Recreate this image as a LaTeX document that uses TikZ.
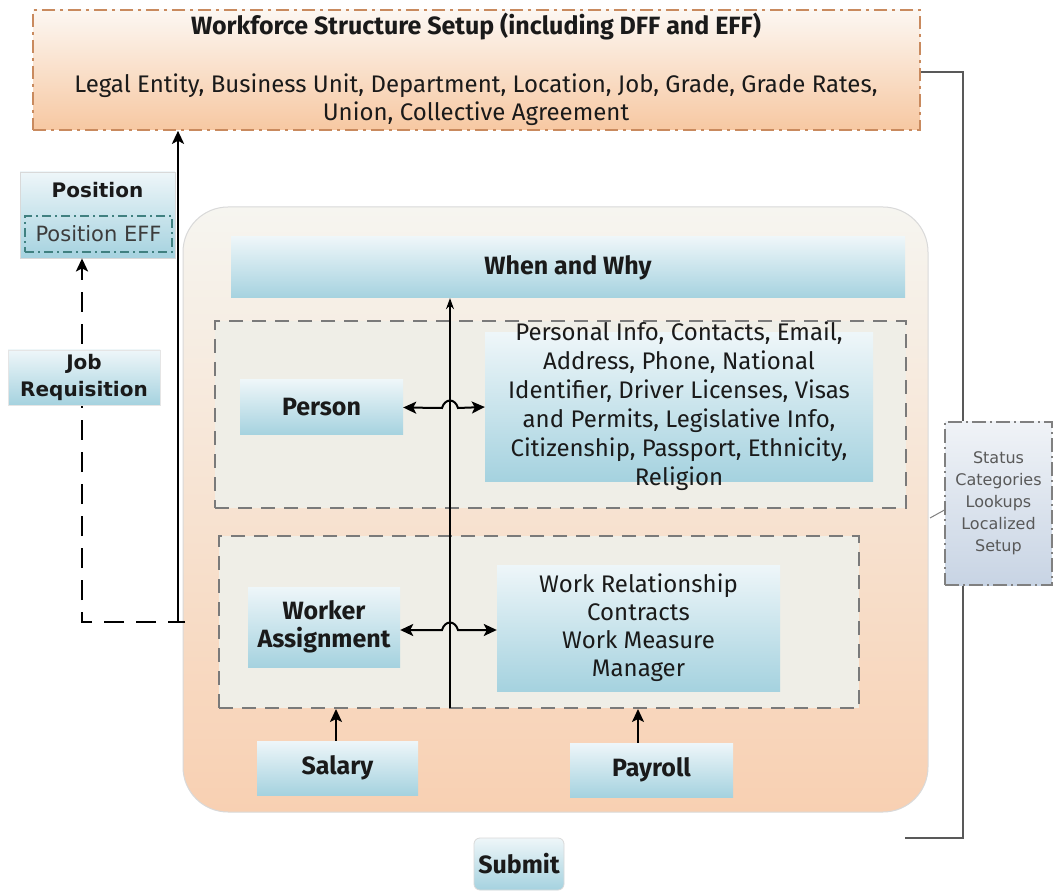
\documentclass[tikz,border=0pt]{standalone}
\usepackage{fontspec}
\setmainfont{Fira Sans}
\newfontfamily\dvs{DejaVu Sans}
\usetikzlibrary{arrows.meta,calc}
\definecolor{orbd}{HTML}{C98A5E}
\definecolor{ortop}{HTML}{FCF7F2}
\definecolor{orbot}{HTML}{F7C8A2}
\definecolor{bigtop}{HTML}{F6F5F0}
\definecolor{bigbot}{HTML}{F8D0B2}
\definecolor{grpfill}{HTML}{EFEEE7}
\definecolor{grpbd}{HTML}{7A7A7A}
\definecolor{bltop}{HTML}{EEF6F9}
\definecolor{blbot}{HTML}{A5D2DF}
\definecolor{sttop}{HTML}{F0F3F7}
\definecolor{stbot}{HTML}{C8D4E4}
\definecolor{txt}{HTML}{1A1A1A}
\tikzset{
  bluebox/.style={rectangle, top color=bltop, bottom color=blbot, draw=none, inner sep=0pt, text=txt, align=center},
  grp/.style={rectangle, fill=grpfill, draw=grpbd, line width=1.6pt, dash pattern=on 14pt off 9pt, inner sep=0pt},
  body/.style={font=\fontsize{24}{29}\selectfont},
  ttl/.style={font=\fontsize{25}{29}\selectfont\bfseries},
  tip/.tip={Stealth[length=13pt,width=12pt,inset=3pt]},
  arr/.style={line width=2pt, -tip},
  darr/.style={line width=2pt, tip-tip},
  thin/.style={line width=1.2pt, draw=black, -{Stealth[length=11pt,width=8pt]}},
}
\begin{document}
\begin{tikzpicture}[x=1pt,y=-1pt]
\useasboundingbox (0,0) rectangle (1053,893);
\fill[white] (0,0) rectangle (1053,893);

% right bracket
\coordinate (brt) at (963,72);
\coordinate (brb) at (963,838);
\coordinate (brend) at (905,838);

% top box
\node[rectangle, minimum width=887pt, minimum height=120pt, top color=ortop, bottom color=orbot, draw=orbd, line width=1.6pt, dash pattern=on 13pt off 5pt on 3pt off 5pt, inner sep=0pt] (top) at (476.5,70) {};
\node[ttl, text=txt] (toptitle) at (476,27) {Workforce Structure Setup (including DFF and EFF)};
\node[body, text=txt, align=center] (topbody) at (476,100) {Legal Entity, Business Unit, Department, Location, Job, Grade, Grade Rates,\\[-1pt]Union, Collective Agreement};
\draw[line width=1.3pt, draw=black!65] (top.east |- brt) -- (brt) -- (brb) -- (brend);

% big rounded box
\shade[top color=bigtop, bottom color=bigbot, rounded corners=45pt] (183,207) rectangle (928,812);
\draw[draw=black!15, line width=1pt, rounded corners=45pt] (183,207) rectangle (928,812);
\coordinate (bigw) at (185,622);

% when and why
\node[bluebox, ttl, minimum width=674pt, minimum height=61pt] (when) at (568,267.5) {When and Why};

% person group
\node[grp, minimum width=691pt, minimum height=187pt] (pgrp) at (560.5,414.5) {};
\node[bluebox, ttl, minimum width=163pt, minimum height=55pt] (person) at (321.5,407.5) {Person};
\node[bluebox, body, minimum width=388pt, minimum height=148pt] (info) at (679,407) {};
\node[body, text=txt, align=center] (infotext) at (679,406) {Personal Info, Contacts, Email,\\Address, Phone, National\\Identifier, Driver Licenses, Visas\\and Permits, Legislative Info,\\Citizenship, Passport, Ethnicity,\\Religion};

% worker group
\node[grp, minimum width=640pt, minimum height=172pt] (wgrp) at (539,622) {};
\node[bluebox, ttl, minimum width=152pt, minimum height=80pt] (worker) at (324,627) {Worker\\[-1pt]Assignment};
\node[bluebox, body, minimum width=283pt, minimum height=126pt] (work) at (638.5,628) {Work Relationship\\[-1pt]Contracts\\[-1pt]Work Measure\\[-1pt]Manager};

% salary payroll
\node[bluebox, ttl, minimum width=161pt, minimum height=54pt] (salary) at (337.5,768) {Salary};
\node[bluebox, ttl, minimum width=163pt, minimum height=54pt] (payroll) at (651.5,770) {Payroll};
\draw[arr] (salary.north -| 336,0) -- (336,709);
\draw[arr] (payroll.north -| 638,0) -- (638,709);

% vertical line with hops
\coordinate (vbot) at (450,708);
\draw[thin] (vbot) -- (vbot |- when.south);
\coordinate (h1) at (442,408);
\coordinate (h2) at (458,408);
\draw[darr] (person.east) -- (h1) .. controls (445,398) and (455,398) .. (h2) -- (info.west);
\coordinate (h3) at (442,630);
\coordinate (h4) at (458,630);
\draw[darr] (worker.east |- h3) -- (h3) .. controls (445,620) and (455,620) .. (h4) -- (work.west |- h4);

% submit
\node[bluebox, ttl, minimum width=90pt, minimum height=52pt, rounded corners=6pt, draw=black!15, line width=0.8pt] (submit) at (519,864) {Submit};

% left connectors
\coordinate (corner) at (178,622);
\coordinate (jx) at (82,622);
\draw[line width=2.4pt, -tip] (bigw) -- (corner) -- (corner |- top.south);

% position
\node[bluebox, minimum width=155pt, minimum height=86pt, draw=black!15, line width=0.8pt] (position) at (97.5,215) {};
\node[font=\dvs\fontsize{20}{24}\selectfont\bfseries, text=txt] (postitle) at (97.5,190) {Position};
\node[rectangle, minimum width=147pt, minimum height=36pt, draw=teal!50!gray, line width=1.1pt, dash pattern=on 9pt off 4pt on 2pt off 4pt, inner sep=0pt, font=\dvs\fontsize{21}{22}\selectfont, text=txt!85] (poseff) at (98.5,234) {Position EFF};
\draw[line width=2.5pt, dash pattern=on 20pt off 12pt, dash phase=10pt, -tip] (corner) -- (jx) -- (jx |- position.south);
\node[bluebox, minimum width=152pt, minimum height=55pt, font=\dvs\fontsize{20}{27}\selectfont\bfseries, draw=black!10, line width=0.6pt] (jobreq) at (84,377.5) {Job\\Requisition};

% status box
\node[rectangle, minimum width=107pt, minimum height=163pt, top color=sttop, bottom color=stbot, draw=black!50, line width=1.1pt, dash pattern=on 14pt off 4pt on 2pt off 4pt, inner sep=0pt, font=\dvs\fontsize{16}{22}\selectfont, text=black!65, align=center] (status) at (998.5,503.5) {Status\\Categories\\Lookups\\Localized\\Setup};
\coordinate (lead) at (930,518);
\draw[draw=black!50, line width=1pt] (status.west |- 0,510) -- (lead);
\end{tikzpicture}
\end{document}
